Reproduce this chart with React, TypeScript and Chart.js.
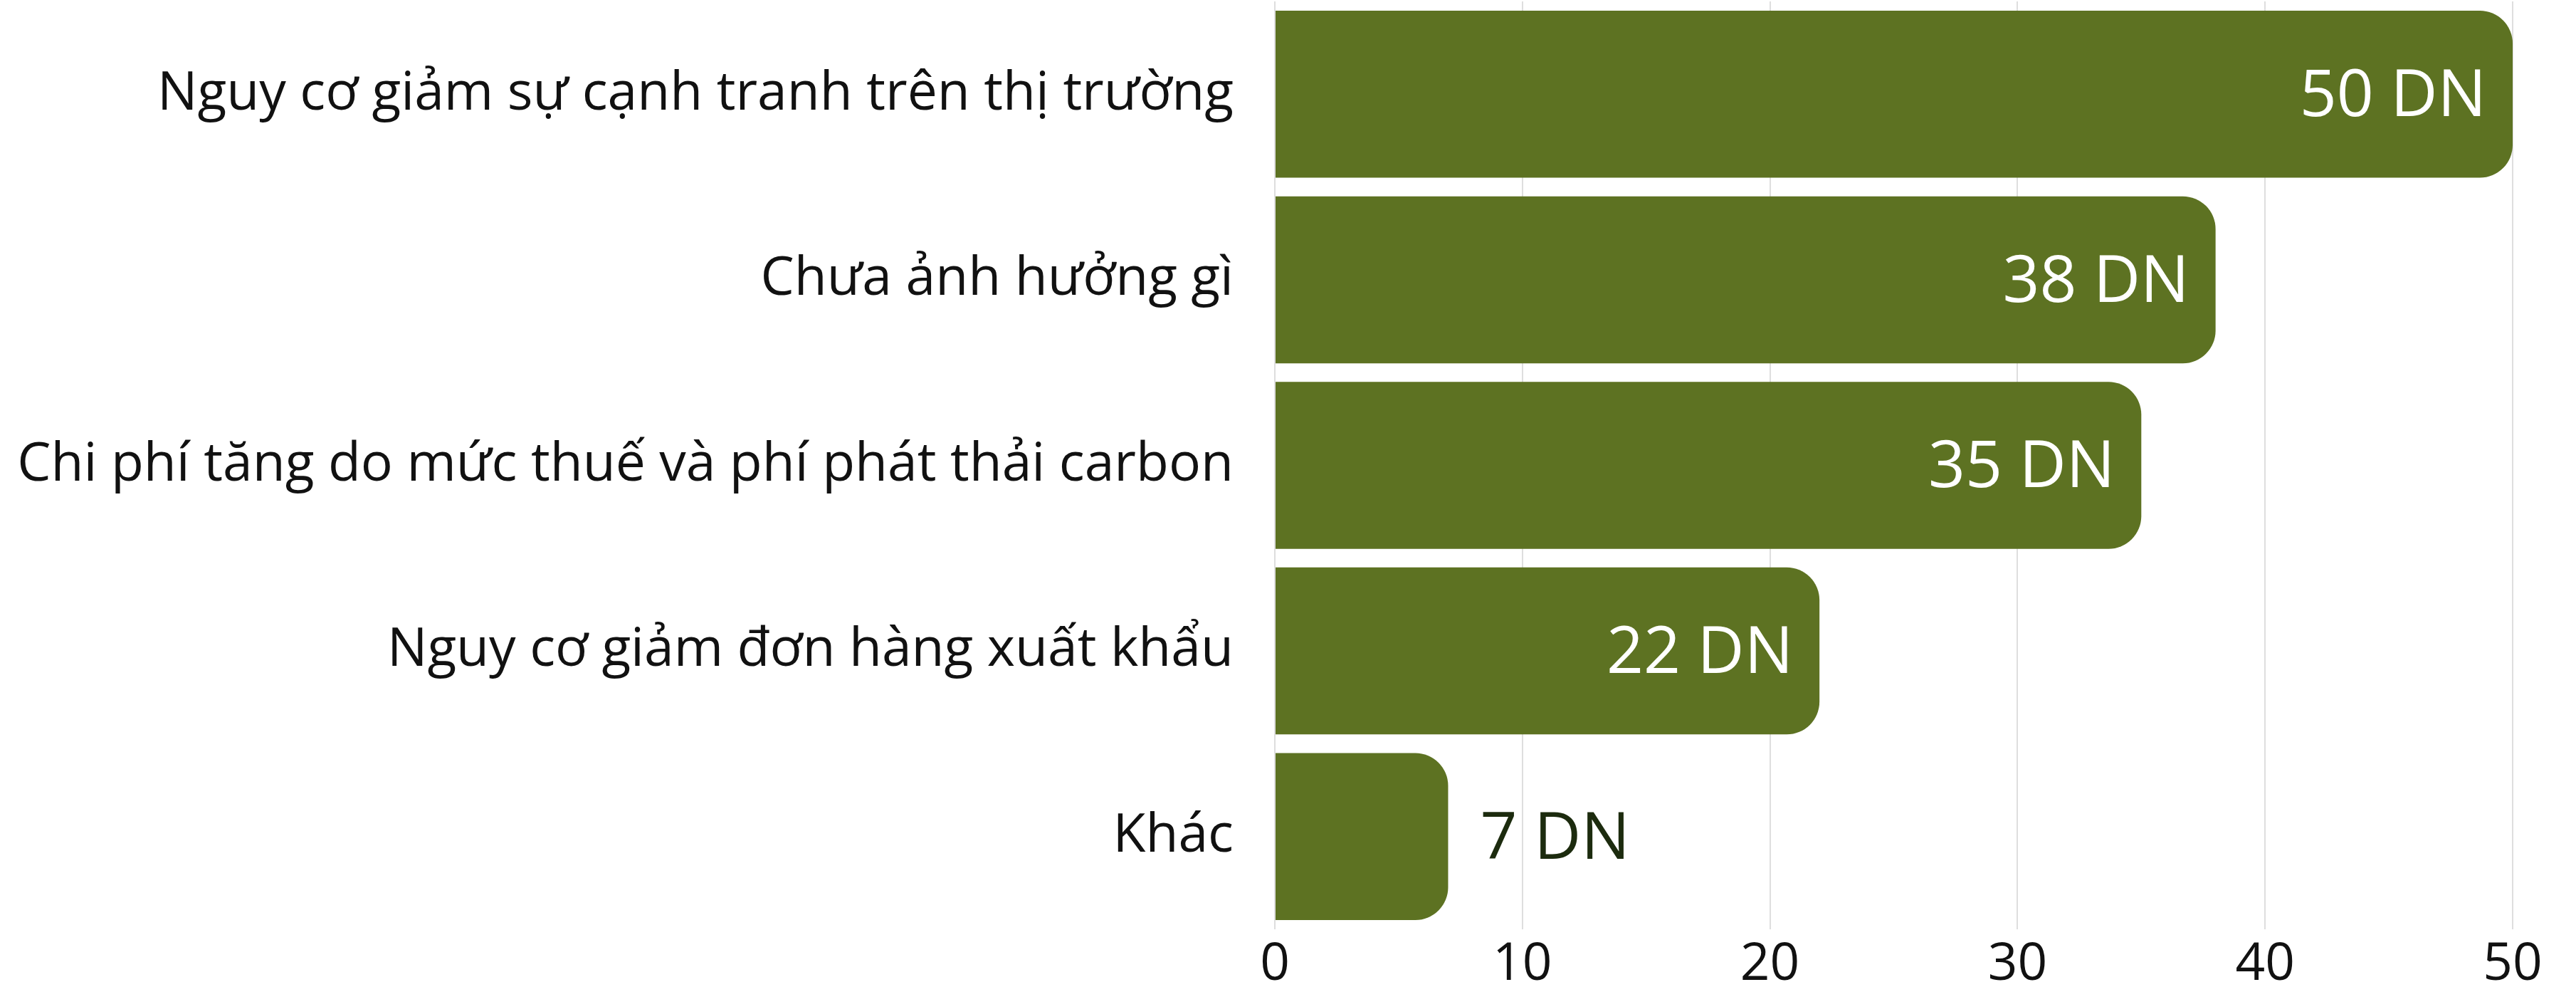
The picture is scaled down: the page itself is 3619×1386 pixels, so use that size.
import React, { useEffect, useRef } from "react";
import { Chart, registerables } from "chart.js";

Chart.register(...registerables);

const categories: string[] = [
  "Nguy cơ giảm sự cạnh tranh trên thị trường",
  "Chưa ảnh hưởng gì",
  "Chi phí tăng do mức thuế và phí phát thải carbon",
  "Nguy cơ giảm đơn hàng xuất khẩu",
  "Khác",
];
const values: number[] = [50, 38, 35, 22, 7];
const unit = "DN";
const xTicks: number[] = [0, 10, 20, 30, 40, 50];

const FONT = '"Open Sans", "Noto Sans", sans-serif';
const BAR_COLOR = "#5d7222";

const valueLabelPlugin = {
  id: "valueLabels",
  afterDatasetsDraw(chart: any) {
    const ctx = chart.ctx;
    const meta = chart.getDatasetMeta(0);
    ctx.save();
    ctx.font = `400 91px ${FONT}`;
    ctx.textBaseline = "middle";
    meta.data.forEach((bar: any, i: number) => {
      const v = values[i];
      const text = `${v} ${unit}`;
      if (v >= 15) {
        ctx.fillStyle = "#ffffff";
        ctx.textAlign = "right";
        ctx.fillText(text, bar.x - 37, bar.y + 5);
      } else {
        ctx.fillStyle = "#1c2b0e";
        ctx.textAlign = "left";
        ctx.fillText(text, bar.x + 45, bar.y + 5);
      }
    });
    ctx.restore();
  },
};

export default function App() {
  const canvasRef = useRef<HTMLCanvasElement | null>(null);

  useEffect(() => {
    document.body.style.margin = "0";
    document.body.style.overflow = "hidden";
    const canvas = canvasRef.current;
    if (!canvas) return;
    const chart = new Chart(canvas, {
      type: "bar",
      data: {
        labels: categories,
        datasets: [
          {
            data: values,
            backgroundColor: BAR_COLOR,
            borderWidth: 0,
            borderRadius: 46,
            borderSkipped: "start",
            barPercentage: 0.9,
            categoryPercentage: 1,
          },
        ],
      },
      options: {
        indexAxis: "y",
        animation: false,
        responsive: true,
        maintainAspectRatio: false,
        layout: { padding: { top: 2, right: 89, left: 0, bottom: 0 } },
        plugins: {
          legend: { display: false },
          tooltip: { enabled: false },
        },
        scales: {
          x: {
            min: 0,
            max: 50,
            afterBuildTicks: (scale: any) => {
              scale.ticks = xTicks.map((v) => ({ value: v }));
            },
            afterFit: (scale: any) => {
              scale.height = 81;
              scale.paddingLeft = 0;
              scale.paddingRight = 0;
            },
            grid: { color: "#dedede", lineWidth: 2, drawTicks: false },
            border: { display: false },
            ticks: {
              color: "#111111",
              font: { family: FONT, size: 73 },
              padding: 6,
              maxRotation: 0,
            },
          },
          y: {
            afterFit: (scale: any) => {
              scale.width = 1791;
              scale.paddingTop = 0;
              scale.paddingBottom = 0;
            },
            grid: { display: false, drawTicks: false },
            border: { display: false },
            ticks: {
              color: "#111111",
              font: { family: FONT, size: 75 },
              padding: 58,
            },
          },
        },
      },
      plugins: [valueLabelPlugin],
    });
    return () => chart.destroy();
  }, []);

  return (
    <div style={{ width: "3619px", height: "1386px", position: "relative" }}>
      <canvas ref={canvasRef} />
    </div>
  );
}
